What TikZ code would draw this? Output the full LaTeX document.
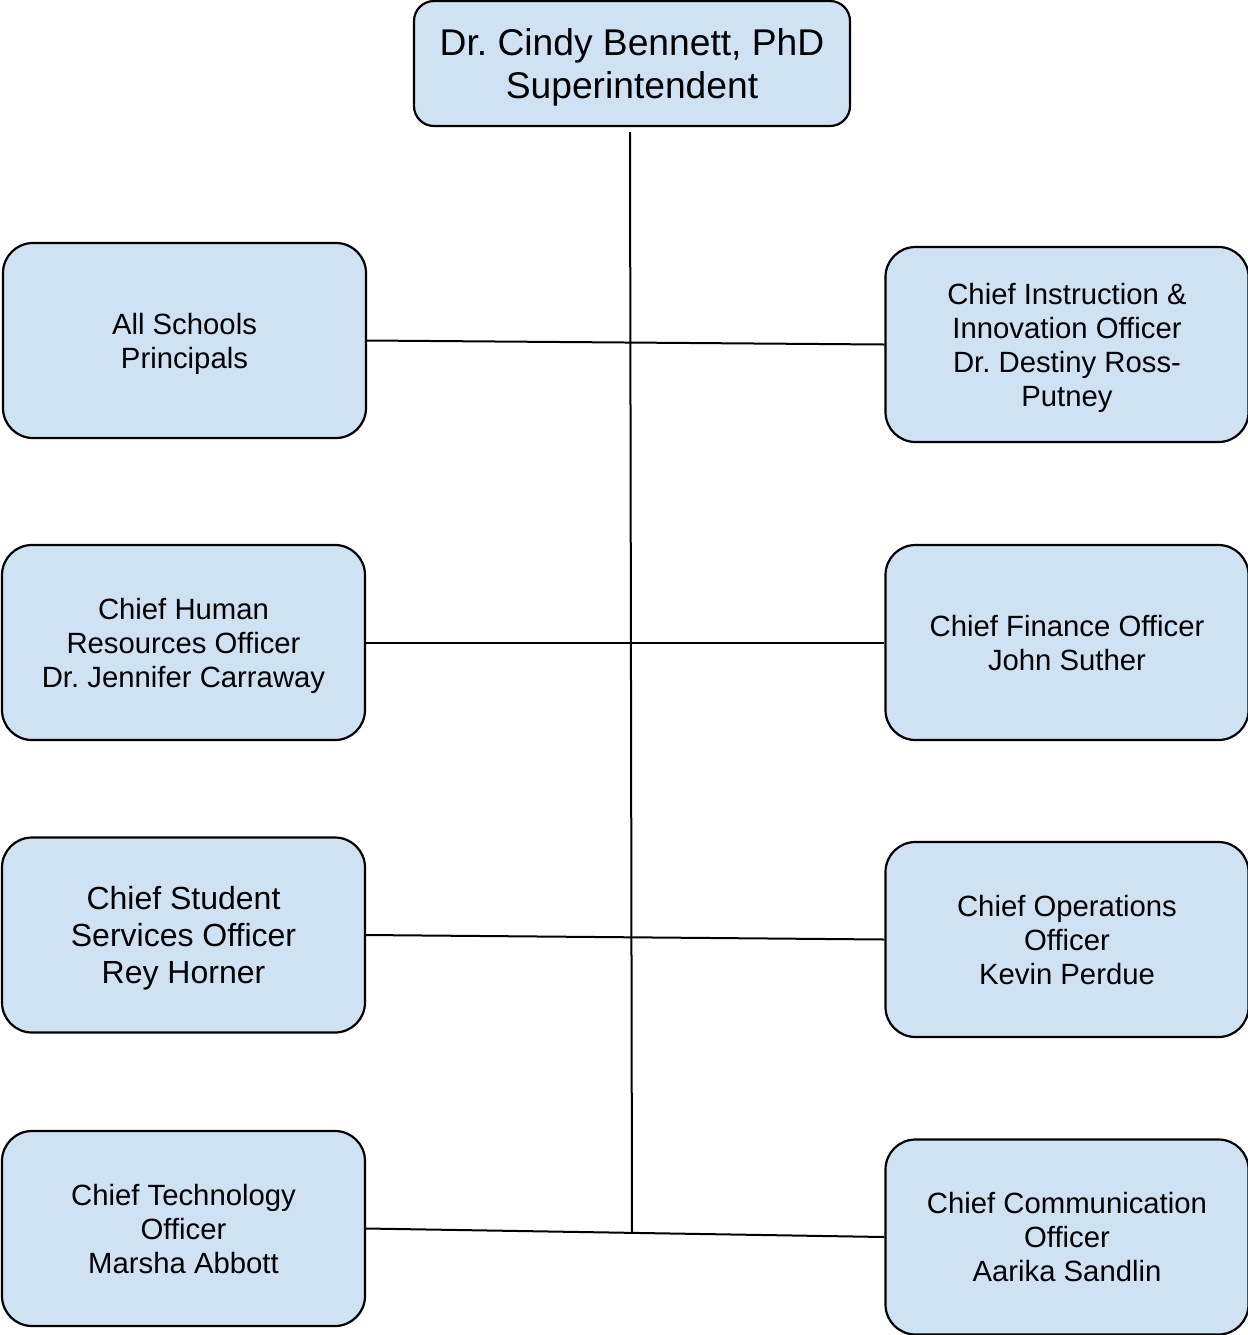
\documentclass[tikz,border=0pt]{standalone}
\usepackage{fontspec}
\setmainfont{Liberation Sans}
\definecolor{boxblue}{HTML}{CFE2F3}
\begin{document}
\frenchspacing
\begin{tikzpicture}[x=0.5pt,y=-0.5pt,
  box/.style={draw=black, line width=1.1pt, fill=boxblue, rounded corners=15pt,
    minimum width=181.5pt, minimum height=97.5pt, align=center, inner sep=0pt,
    font=\fontsize{14.65}{17}\selectfont, text depth=0pt},
  topbox/.style={box, rounded corners=10pt, minimum width=218pt, minimum height=62.5pt,
    font=\fontsize{18.6}{21.5}\selectfont},
  bigtext/.style={font=\fontsize{16}{18.5}\selectfont},
  conn/.style={draw=black, line width=1pt}]
\useasboundingbox (0,0) rectangle (1248,1335);
\node[topbox] (top) at (632,63.5) {Dr. Cindy Bennett, PhD\\Superintendent};
\node[box] (as) at (184.5,340.5) {All Schools\\Principals};
\node[box] (ci) at (1067,344.5) {Chief Instruction \&\\Innovation Officer\\Dr. Destiny Ross-\\Putney};
\node[box] (hr) at (183.5,642.5) {Chief Human\\Resources Officer\\Dr. Jennifer Carraway};
\node[box] (cf) at (1067,642.5) {Chief Finance Officer\\John Suther};
\node[box,bigtext] (cs) at (183.5,935) {Chief Student\\Services Officer\\Rey Horner};
\node[box] (co) at (1067,939.5) {Chief Operations\\Officer\\Kevin Perdue};
\node[box] (ct) at (183.5,1228.5) {Chief Technology\\Officer\\Marsha Abbott};
\node[box] (cc) at (1067,1237) {Chief Communication\\Officer\\Aarika Sandlin};
\coordinate (vtop) at (630,132);
\coordinate (vbot) at (632,1233);
\draw[conn] (vtop) -- (vbot);
\draw[conn] (as.east) -- (ci.west);
\draw[conn] (hr.east) -- (cf.west);
\draw[conn] (cs.east) -- (co.west);
\draw[conn] (ct.east) -- (cc.west);
\end{tikzpicture}
\end{document}
